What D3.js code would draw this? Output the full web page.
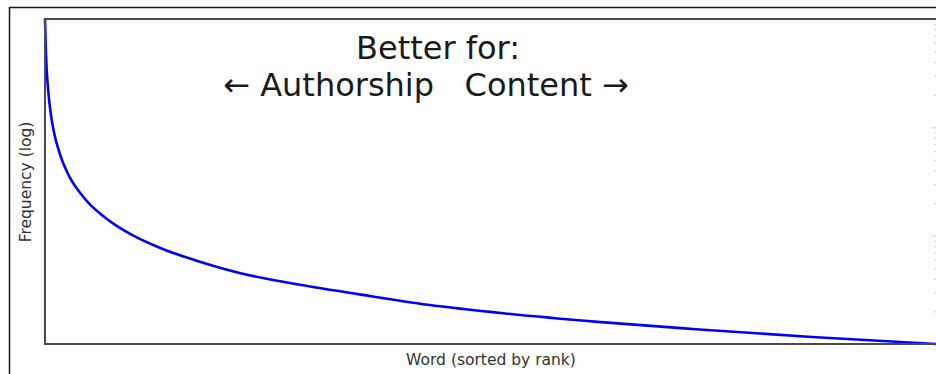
<!DOCTYPE html>
<html lang="en">
<head>
    <meta charset="UTF-8" />
    <title>Word frequency by rank</title>
    <script src="https://d3js.org/d3.v7.min.js"></script>
    <style>
        body { margin: 0; background: #fff; }
        svg { display: block; }
    </style>
</head>
<body>
    <script>
        // word rank vs frequency
        var ranks = [1, 2, 3, 4, 5, 6, 8, 10, 12, 15, 20, 25, 30, 40, 50, 60, 70, 80, 100, 130, 170, 220, 280, 350, 430, 520, 620, 730, 860, 1000];
        var freqs = [1000, 500, 330, 250, 200, 167, 125, 100, 83, 67, 50, 40, 33, 25, 20, 16.7, 14.3, 12.5, 10, 7.7, 5.9, 4.5, 3.6, 2.9, 2.3, 1.9, 1.6, 1.37, 1.16, 1];

        var majorTicks = [1, 10, 100, 1000];
        var minorTicks = [2, 3, 4, 5, 6, 7, 8, 9, 20, 30, 40, 50, 60, 70, 80, 90, 200, 300, 400, 500, 600, 700, 800, 900];

        var titleLines = ["Better for:", "\u2190 Authorship   Content \u2192"];
        var xLabel = "Word (sorted by rank)";
        var yLabel = "Frequency (log)";

        var w = 936;
        var h = 374;
        // plot box edges (right spine sits just off the page)
        var plotL = 45, plotR = 937, plotT = 19, plotB = 344;

        var dataset = ranks.map(function (r, i) { return [r, freqs[i]]; });

        var xScale = d3.scaleLinear()
            .domain([1, 1000])
            .range([plotL, plotR]);

        var yScale = d3.scaleLog()
            .domain([1, 1000])
            .range([plotB, plotT]);

        var svg = d3.select("body")
            .append("svg")
            .attr("width", w)
            .attr("height", h);

        // outer frame (top + left only, the rest is cropped)
        svg.append("path")
            .attr("d", "M9.5," + h + "V7.5H" + w)
            .attr("fill", "none")
            .attr("stroke", "#1a1a1a")
            .attr("stroke-width", 1.5);

        // faint ticks on the right spine
        var majorAxis = d3.axisLeft(yScale).tickValues(majorTicks).tickSize(6).tickFormat("");
        var minorAxis = d3.axisLeft(yScale).tickValues(minorTicks).tickSize(3).tickFormat("");

        svg.append("g").attr("class", "y major")
            .attr("transform", "translate(" + plotR + ",0)")
            .call(majorAxis);
        svg.append("g").attr("class", "y minor")
            .attr("transform", "translate(" + plotR + ",0)")
            .call(minorAxis);
        svg.selectAll(".y .domain").remove();
        svg.selectAll(".y .tick line").attr("stroke", "#d0d0d0");

        // the curve
        var line = d3.line()
            .x(function (d) { return xScale(d[0]); })
            .y(function (d) { return yScale(d[1]); })
            .curve(d3.curveMonotoneX);

        svg.append("path")
            .datum(dataset)
            .attr("d", line)
            .attr("fill", "none")
            .attr("stroke", "#0000ff")
            .attr("stroke-width", 2.6);

        // plot box
        svg.append("rect")
            .attr("x", plotL)
            .attr("y", plotT)
            .attr("width", plotR - plotL)
            .attr("height", plotB - plotT)
            .attr("fill", "none")
            .attr("stroke", "#4a4a4a")
            .attr("stroke-width", 2);

        // title text
        svg.append("text")
            .text(titleLines[0])
            .attr("x", 438)
            .attr("y", 59)
            .attr("text-anchor", "middle")
            .attr("font-family", "DejaVu Sans")
            .attr("font-size", "32px")
            .attr("fill", "#1a1a1a");

        svg.append("text")
            .text(titleLines[1])
            .attr("x", 426)
            .attr("y", 96)
            .attr("text-anchor", "middle")
            .attr("font-family", "DejaVu Sans")
            .attr("font-size", "32px")
            .attr("fill", "#1a1a1a")
            .style("white-space", "pre");

        // axis labels
        svg.append("text")
            .text(xLabel)
            .attr("x", 491)
            .attr("y", 365)
            .attr("text-anchor", "middle")
            .attr("font-family", "DejaVu Sans")
            .attr("font-size", "15.5px")
            .attr("fill", "#333");

        svg.append("text")
            .text(yLabel)
            .attr("transform", "translate(31,182) rotate(-90)")
            .attr("text-anchor", "middle")
            .attr("font-family", "DejaVu Sans")
            .attr("font-size", "15.5px")
            .attr("fill", "#333");
    </script>
</body>
</html>
